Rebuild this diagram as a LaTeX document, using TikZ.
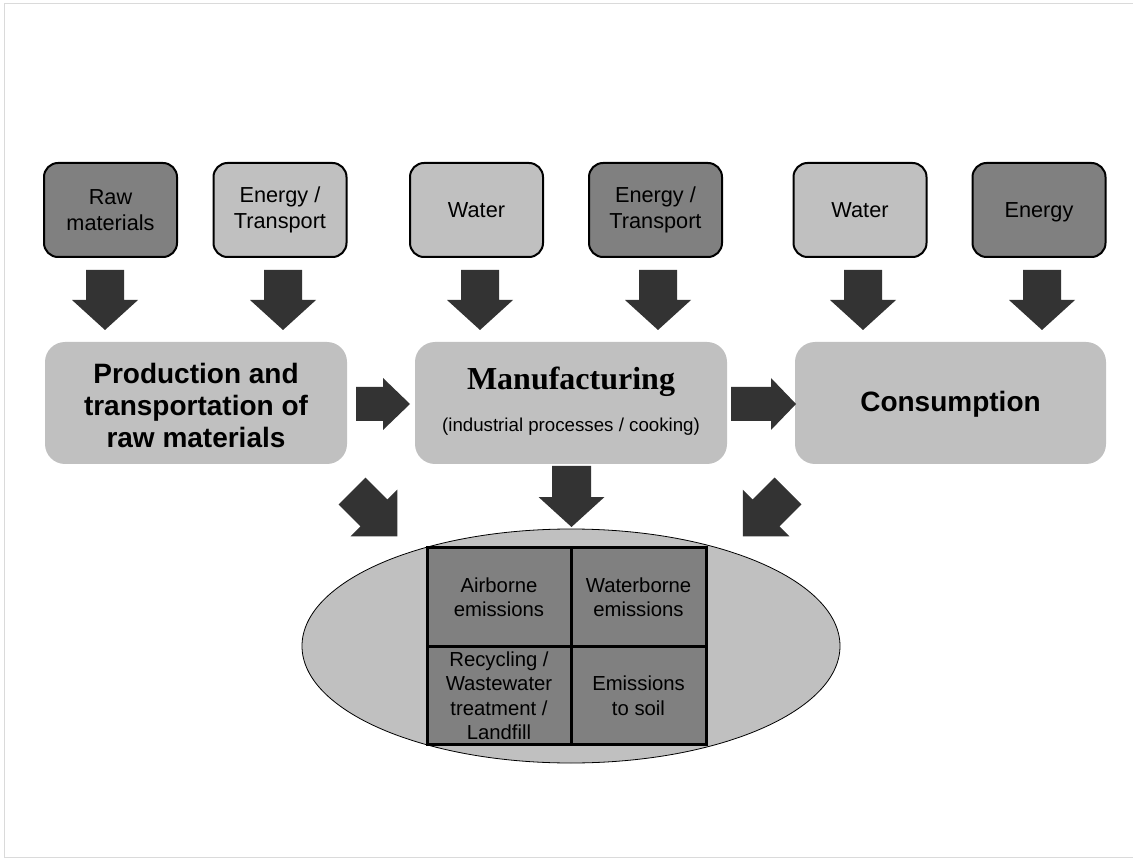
\documentclass[tikz,border=0pt]{standalone}
\usepackage{fontspec}
\setmainfont{Liberation Sans}
\newfontfamily\serifbf{Liberation Serif}
\usetikzlibrary{shapes.geometric,calc}

\definecolor{lightfill}{HTML}{C0C0C0}
\definecolor{darkfill}{HTML}{808080}
\definecolor{arrowfill}{HTML}{333333}
\definecolor{framegray}{HTML}{DADADA}

\tikzset{
  inbox/.style={draw=black, line width=2pt, rounded corners=14pt,
    minimum width=133pt, minimum height=94pt, inner sep=0pt, align=center,
    font=\fontsize{21.7}{26.5}\selectfont},
  lightbox/.style={inbox, fill=lightfill},
  darkbox/.style={inbox, fill=darkfill},
  stagebox/.style={fill=lightfill, rounded corners=20pt, minimum height=122pt,
    inner sep=0pt, align=center},
  stagetext/.style={align=center, inner sep=0pt,
    font=\fontsize{28}{32}\selectfont\bfseries},
  cell/.style={draw=black, line width=3pt, fill=darkfill, inner sep=0pt,
    align=center, font=\fontsize{20.3}{24.5}\selectfont},
  % block arrow: shaft width, head width, shaft length, total length
  pics/fatarrow/.style n args={4}{code={
    \fill[arrowfill] (0,-#1/2) -- (#3,-#1/2) -- (#3,-#2/2) -- (#4,0)
      -- (#3,#2/2) -- (#3,#1/2) -- (0,#1/2) -- cycle;}},
}

\begin{document}
\begin{tikzpicture}[x=1pt, y=-1pt]
\useasboundingbox (0,0) rectangle (1133,858);

% page frame
\draw[framegray, line width=1pt] (1133,4) -- (4,4) -- (4,857) -- (1133,857);

% inputs
\node[darkbox]  (raw)    at (110.5,210) {Raw\\materials};
\node[lightbox] (enA)    at (280,210)   {Energy /\\Transport};
\node[lightbox] (waterA) at (476.5,210) {Water};
\node[darkbox]  (enB)    at (655.5,210) {Energy /\\Transport};
\node[lightbox] (waterB) at (860,210)   {Water};
\node[darkbox, text depth=0pt] (enC) at (1039,210) {Energy};

% input arrows
\pic[rotate=-90] at (105,270)  {fatarrow={38}{66}{30}{60}};
\pic[rotate=-90] at (283,270)  {fatarrow={38}{66}{30}{60}};
\pic[rotate=-90] at (480,270)  {fatarrow={38}{66}{30}{60}};
\pic[rotate=-90] at (658,270)  {fatarrow={38}{66}{30}{60}};
\pic[rotate=-90] at (863,270)  {fatarrow={38}{66}{30}{60}};
\pic[rotate=-90] at (1042,270) {fatarrow={38}{66}{30}{60}};

% life-cycle stages
\node[stagebox, minimum width=302pt] (prod) at (196,403) {};
\node[stagetext] (prodtext) at (196,405)
  {Production and\\transportation of\\raw materials};
\node[stagebox, minimum width=312pt] (manu) at (571,403) {};
\node[inner sep=0pt, font=\fontsize{32}{36}\serifbf\bfseries] (manutitle)
  at (571,382) {Manufacturing};
\node[inner sep=0pt, font=\fontsize{18.7}{22}\selectfont] (manusub)
  at (571,427) {(industrial processes / cooking)};
\node[stagebox, minimum width=311pt] (cons) at (950.5,403) {};
\node[stagetext] (constext) at (950.5,404) {Consumption};

% flow between stages
\pic at (356,404) {fatarrow={34}{52}{27}{54}};
\pic at (731,404) {fatarrow={34}{52}{40}{65}};

% arrows into the outputs
\pic[rotate=-45]  at (352,491)   {fatarrow={38}{66}{31}{64}};
\pic[rotate=-90]  at (571.5,466) {fatarrow={39}{66}{31}{61}};
\pic[rotate=-135] at (788,491)   {fatarrow={38}{66}{31}{64}};

% outputs
\node[ellipse, draw=black, line width=0.8pt, fill=lightfill, inner sep=0pt,
  minimum width=538pt, minimum height=234pt] (sink) at (571,646) {};
\node[cell, minimum width=144pt, minimum height=98.5pt] (air)  at (499,597)
  {Airborne\\emissions};
\node[cell, minimum width=135pt, minimum height=98.5pt] (wat)  at (638.5,597)
  {Waterborne\\emissions};
\node[cell, minimum width=144pt, minimum height=98.5pt] (rec)  at (499,695.5)
  {Recycling /\\Wastewater\\treatment /\\Landfill};
\node[cell, minimum width=135pt, minimum height=98.5pt] (soil) at (638.5,695.5)
  {Emissions\\to soil};
\end{tikzpicture}
\end{document}
